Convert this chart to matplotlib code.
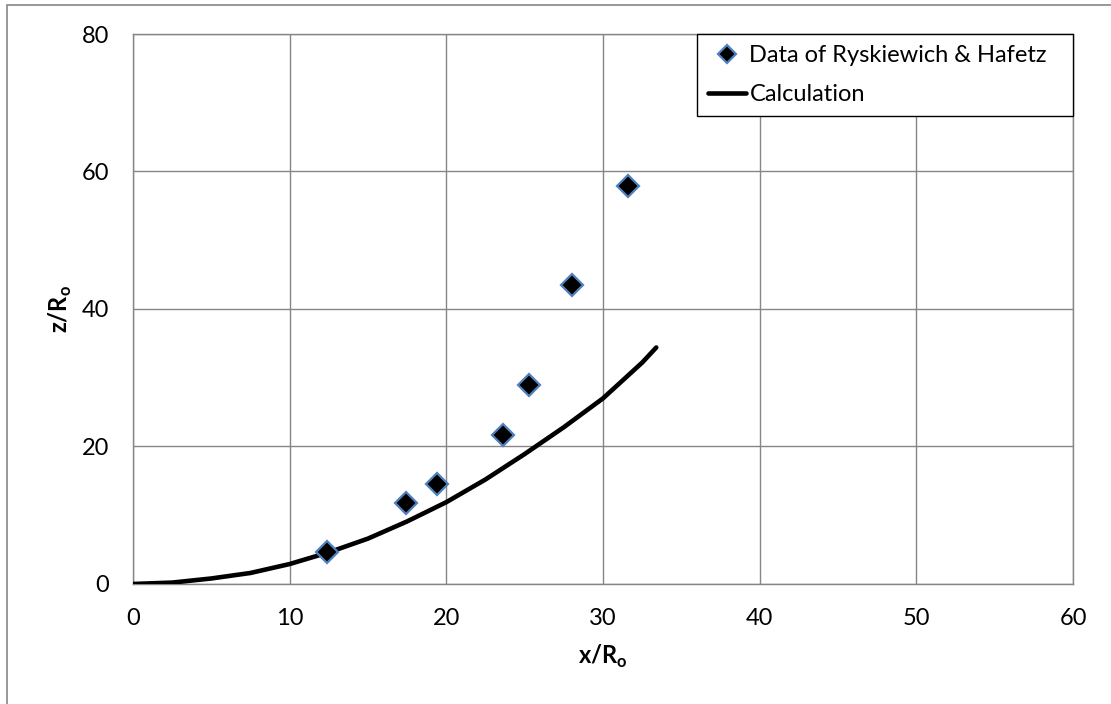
import matplotlib.pyplot as plt
from matplotlib.patches import Rectangle

plt.rcParams['font.family'] = ['Lato', 'DejaVu Sans']
plt.rcParams['mathtext.fontset'] = 'custom'
plt.rcParams['mathtext.rm'] = 'Lato'
plt.rcParams['mathtext.bf'] = 'Lato:bold'

# measured data
data_x = [12.4, 17.4, 19.4, 23.6, 25.3, 28.0, 31.6]
data_z = [4.7, 11.8, 14.6, 21.7, 28.9, 43.5, 57.9]

# calculated curve
calc_x = [0, 2.5, 5, 7.5, 10, 12.5, 15, 17.5, 20, 22.5, 25, 27.5, 30, 32.5, 33.4]
calc_z = [0, 0.2, 0.8, 1.6, 2.9, 4.6, 6.6, 9.1, 11.9, 15.2, 18.9, 22.8, 27.0, 32.2, 34.4]

fig = plt.figure(figsize=(11.11, 7.04), dpi=100)
ax = fig.add_axes([0.1197, 0.1705, 0.8461, 0.7812])

ax.plot(calc_x, calc_z, color='black', lw=3.3, solid_capstyle='round',
        solid_joinstyle='round', label='Calculation', zorder=3)
ax.plot(data_x, data_z, linestyle='none', marker='D', ms=11,
        mfc='black', mec='#4F81BD', mew=1.6, label='Data of Ryskiewich & Hafetz',
        zorder=4)

ax.set_xlim(0, 60)
ax.set_ylim(0, 80)
ax.set_xticks(range(0, 61, 10))
ax.set_yticks(range(0, 81, 20))
ax.grid(True, color='#868686', lw=1)
ax.set_axisbelow(True)
for s in ax.spines.values():
    s.set_color('#868686')
    s.set_linewidth(1)
ax.tick_params(length=0, labelsize=17, pad=17)

ax.set_xlabel(r'x/R$_\mathbf{o}$', fontsize=17, fontweight='bold', labelpad=10)
ax.set_ylabel(r'z/R$_\mathbf{o}$', fontsize=17, fontweight='bold', labelpad=6)

h, l = ax.get_legend_handles_labels()
leg = ax.legend(h[::-1], l[::-1], loc='upper left', bbox_to_anchor=(0.6, 0.0, 0.4, 1.0),
                mode='expand', fontsize=17, frameon=True, fancybox=False,
                borderaxespad=0, handlelength=1.6, handletextpad=0.15,
                borderpad=0.47, labelspacing=0.77, markerscale=0.8)
leg.get_frame().set_edgecolor('black')
leg.get_frame().set_linewidth(1)
leg.get_frame().set_alpha(1)

# outer frame of the chart area (only left and top edges are visible)
fig.patches.append(Rectangle((0.0063, -0.05), 1.1, 1.043, transform=fig.transFigure,
                             fill=False, edgecolor='#868686', lw=1.2))

fig.savefig('out.png', dpi=100)
